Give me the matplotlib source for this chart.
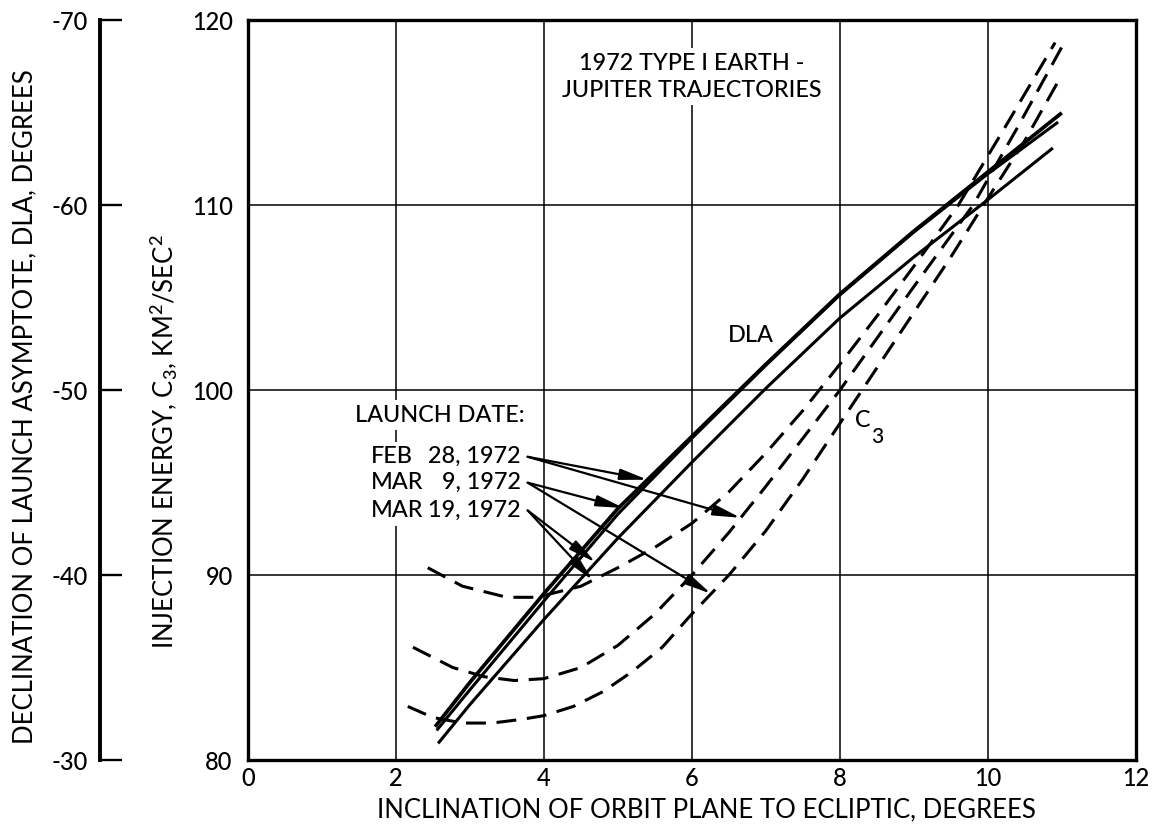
import numpy as np
import matplotlib
matplotlib.use('Agg')
import matplotlib.pyplot as plt

plt.rcParams['font.family'] = ['Lato', 'DejaVu Sans']
plt.rcParams['font.weight'] = 'medium'
plt.rcParams['mathtext.fontset'] = 'custom'
plt.rcParams['mathtext.rm'] = 'Lato:medium'
plt.rcParams['mathtext.default'] = 'rm'
plt.rcParams['axes.unicode_minus'] = False

# DLA (declination of launch asymptote), degrees -- solid curves
dla_x_feb28 = [2.53, 3.0, 3.5, 4.0, 5.0, 6.0, 7.0, 8.0, 9.0, 10.0, 11.0]
dla_feb28 = [-31.8, -34.2, -36.6, -39.0, -43.6, -47.5, -51.4, -55.2, -58.6, -61.8, -65.0]
dla_x_mar9 = [2.55, 3.0, 3.5, 4.0, 5.0, 6.0, 7.0, 8.0, 9.0, 10.0, 10.95]
dla_mar9 = [-31.6, -33.8, -36.2, -38.6, -43.3, -47.4, -51.35, -55.15, -58.55, -61.7, -64.5]
dla_x_mar19 = [2.57, 3.0, 3.5, 4.0, 5.0, 6.0, 7.0, 8.0, 9.0, 10.0, 10.88]
dla_mar19 = [-30.9, -33.0, -35.3, -37.6, -42.0, -46.1, -50.1, -53.9, -57.2, -60.3, -63.1]

# injection energy C3, km^2/sec^2 -- dashed curves
c3_x_feb28 = [2.23, 2.77, 3.2, 3.6, 4.0, 4.5, 5.0, 5.5, 6.0, 6.5, 7.0, 7.5,
              8.0, 8.5, 9.0, 9.8, 10.4, 11.02]
c3_feb28 = [86.1, 85.0, 84.5, 84.3, 84.4, 85.0, 86.2, 87.9, 90.0, 92.3, 94.8, 97.4,
            100.0, 102.8, 105.6, 110.0, 114.2, 118.7]
c3_x_mar9 = [2.16, 2.5, 2.9, 3.3, 3.7, 4.0, 4.4, 4.8, 5.2, 5.6, 6.0, 6.5, 7.0,
             7.5, 8.0, 8.5, 9.0, 9.5, 9.94, 10.5, 10.98]
c3_mar9 = [82.9, 82.3, 82.0, 82.0, 82.2, 82.4, 82.9, 83.7, 84.8, 86.1, 87.9, 90.0, 92.4,
           95.2, 98.2, 101.2, 104.2, 107.2, 110.0, 113.5, 116.9]
c3_x_mar19 = [2.43, 2.9, 3.5, 3.9, 4.5, 5.0, 5.5, 6.0, 6.5, 7.0, 7.5, 8.0, 8.5,
              9.0, 9.6, 10.2, 10.91]
c3_mar19 = [90.4, 89.4, 88.8, 88.8, 89.4, 90.4, 91.5, 92.8, 94.5, 96.6, 98.9, 101.4, 104.0,
            106.7, 110.0, 114.0, 118.8]

dates_month = ['FEB', 'MAR', 'MAR']
dates_day = ['28, 1972', '9, 1972', '19, 1972']
# where each date's arrows touch the curves (inclination, deg)
tip_dla_x = [5.40, 5.08, 4.70]
tip_c3_x = [6.66, 6.26, 4.66]

FS = 16.8      # text inside the plot
FS_TICK = 17
FS_LABEL = 18.5


def demo():
    fig = plt.figure(figsize=(11.56, 8.32), dpi=100)
    ax = fig.add_axes([0.2145, 0.0865, 0.768, 0.889])

    ax.set_xlim(0, 12)
    ax.set_ylim(80, 120)
    ax.set_xticks(range(0, 13, 2))
    ax.set_yticks(range(80, 121, 10))
    ax.grid(True, color='black', lw=1.1)
    ax.set_axisbelow(True)
    for s in ax.spines.values():
        s.set_linewidth(2.4)
    ax.tick_params(axis='both', length=0, labelsize=FS_TICK)
    ax.tick_params(axis='y', pad=11)
    ax.tick_params(axis='x', pad=5)

    ax.set_xlabel('INCLINATION OF ORBIT PLANE TO ECLIPTIC, DEGREES', fontsize=FS_LABEL)
    ax.xaxis.set_label_coords(0.516, -0.05)
    ax.set_ylabel('INJECTION ENERGY, C$_3$, KM$^2$/SEC$^2$', fontsize=FS_LABEL)
    ax.yaxis.set_label_coords(-0.076, 0.43)

    # second scale for DLA on the far left
    ax2 = ax.twinx()
    ax2.set_ylim(-30, -70)
    ax2.set_yticks(range(-30, -71, -10))
    for side in ['right', 'top', 'bottom']:
        ax2.spines[side].set_visible(False)
    ax2.spines['left'].set_visible(True)
    ax2.spines['left'].set_position(('axes', -0.1667))
    ax2.spines['left'].set_linewidth(2.8)
    ax2.yaxis.set_ticks_position('left')
    ax2.yaxis.set_label_position('left')
    ax2.tick_params(axis='y', direction='in', length=16, width=1.7, pad=9, labelsize=FS_TICK)
    ax2.set_ylabel('DECLINATION OF LAUNCH ASYMPTOTE, DLA, DEGREES', fontsize=FS_LABEL)
    ax2.yaxis.set_label_coords(-0.2375, 0.478)

    dash = (0, (6.5, 3.5))
    c3_sets = [(c3_x_feb28, c3_feb28), (c3_x_mar9, c3_mar9), (c3_x_mar19, c3_mar19)]
    dla_sets = [(dla_x_feb28, dla_feb28), (dla_x_mar9, dla_mar9), (dla_x_mar19, dla_mar19)]
    for x, y in c3_sets:
        ax.plot(x, y, color='black', lw=2.2, linestyle=dash)
    widths = [2.7, 2.2, 2.2]
    for (x, y), w in zip(dla_sets, widths):
        ax2.plot(x, y, color='black', lw=w, solid_capstyle='butt')

    ax.text(6.49, 102.6, 'DLA', fontsize=FS, va='baseline')
    # C3 label, subscript drawn nearly full size as in the original lettering
    ax.text(8.2, 98.0, 'C', fontsize=FS, va='baseline')
    ax.text(8.42, 97.15, '3', fontsize=FS * 0.9, va='baseline')

    white = dict(boxstyle='square,pad=0.2', facecolor='white', edgecolor='none')
    ax.text(6.0, 116.95, '1972 TYPE I EARTH -\nJUPITER TRAJECTORIES', fontsize=FS,
            ha='center', va='center', linespacing=1.35, bbox=white)
    ax.text(3.74, 98.65, 'LAUNCH DATE:', fontsize=FS, ha='right', va='center', bbox=white)

    rows_y = [96.4, 95.0, 93.5]
    head = '-|>,head_length=1.1,head_width=0.22'
    for i in range(3):
        ax.text(1.66, rows_y[i], dates_month[i], fontsize=FS, ha='left', va='center', bbox=white)
        ax.text(3.69, rows_y[i], dates_day[i], fontsize=FS, ha='right', va='center')
        tail = (3.78, rows_y[i])
        dx, dy = dla_sets[i]
        tip = (tip_dla_x[i], np.interp(tip_dla_x[i], dx, dy))
        ax.annotate('', xy=tip, xycoords=ax2.transData, xytext=tail, textcoords='data',
                    arrowprops=dict(arrowstyle=head, lw=1.6, color='black',
                                    shrinkA=0, shrinkB=0, mutation_scale=15))
        cx, cy = c3_sets[i]
        tip = (tip_c3_x[i], np.interp(tip_c3_x[i], cx, cy))
        ax.annotate('', xy=tip, xytext=tail,
                    arrowprops=dict(arrowstyle=head, lw=1.6, color='black',
                                    shrinkA=0, shrinkB=0, mutation_scale=15))

    fig.savefig('out.png', dpi=100)


if __name__ == '__main__':

    demo()
